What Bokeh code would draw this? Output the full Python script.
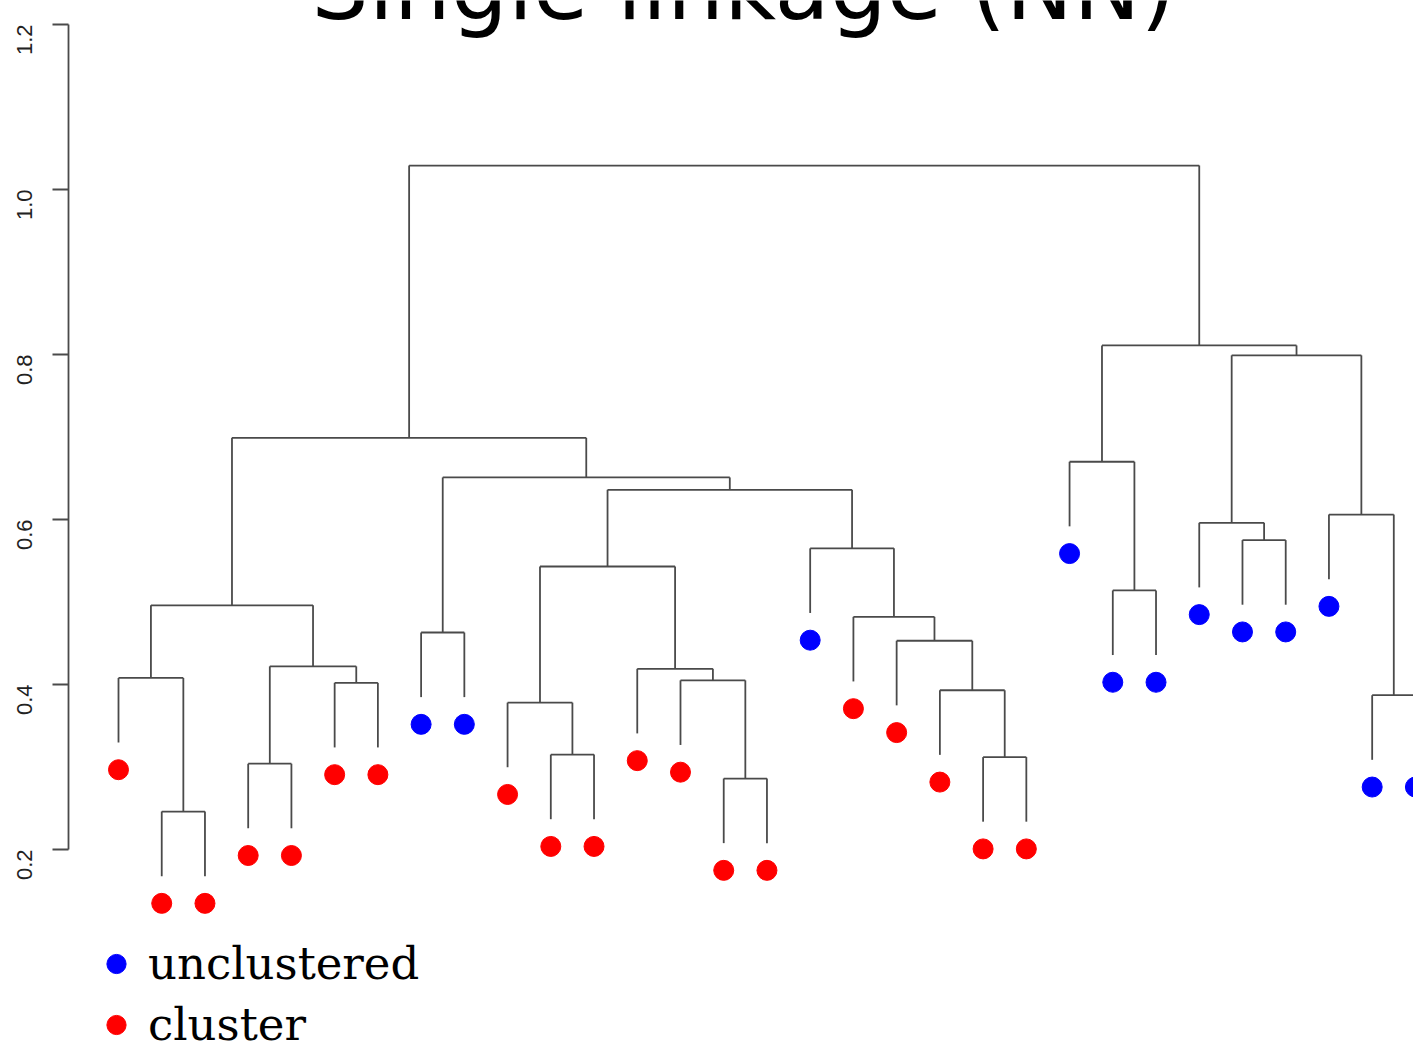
import math
import numpy as np
from bokeh.plotting import figure
from bokeh.models import (Range1d, LinearAxis, FixedTicker, PrintfTickFormatter,
                          Label, Legend, LegendItem, ColumnDataSource)
from bokeh.embed import file_html
from bokeh.resources import INLINE

# ---- data -------------------------------------------------------------
# Leaves in plotting order (1..31) and whether each point belongs to a cluster
leaf_labels = [str(i) for i in range(1, 32)]
leaf_group = (["cluster"] * 7 + ["unclustered"] * 2 + ["cluster"] * 7 +
              ["unclustered"] + ["cluster"] * 5 + ["unclustered"] * 9)

# Agglomeration steps (hclust style: negative = leaf, positive = earlier step)
merge_left = [-2, -15, -4, -21, -11, -10, -30, -20, -6, -14,
              -1, -13, 3, -19, -8, -18, 11, -24, 6, -17,
              -27, -26, -29, 19, 15, -23, 17, 22, 26, 27]
merge_right = [-3, -16, -5, -22, -12, 5, -31, 4, -7, 2,
               1, 10, 9, 8, -9, 14, 13, -25, 12, 16,
               -28, 21, 7, 20, 24, 18, 25, 23, 28, 29]
merge_height = [0.246, 0.286, 0.304, 0.312, 0.315, 0.378, 0.387, 0.393, 0.402, 0.405,
                0.408, 0.419, 0.422, 0.453, 0.463, 0.482, 0.496, 0.514, 0.543, 0.565,
                0.575, 0.596, 0.606, 0.636, 0.651, 0.670, 0.699, 0.799, 0.811, 1.029]

axis_ticks = [0.2, 0.4, 0.6, 0.8, 1.0, 1.2]
title_text = "Single linkage (NN)"
group_colors = {"unclustered": "#0000ff", "cluster": "#ff0000"}

# ---- dendrogram geometry ----------------------------------------------
n_leaves = len(leaf_group)
leaf_x = np.arange(n_leaves, dtype=float)
leaf_end = np.zeros(n_leaves)
hang = 0.1 * (max(merge_height) - min(merge_height))

node_x = {}
x0, y0, x1, y1 = [], [], [], []
for step, (a, b, h) in enumerate(zip(merge_left, merge_right, merge_height), start=1):
    xs = []
    for ref in (a, b):
        if ref < 0:
            i = -ref - 1
            cx, bottom = leaf_x[i], h - hang
            leaf_end[i] = bottom
        else:
            cx, bottom = node_x[ref], merge_height[ref - 1]
        xs.append(cx)
        x0.append(cx); y0.append(h); x1.append(cx); y1.append(bottom)
    x0.append(xs[0]); y0.append(h); x1.append(xs[1]); y1.append(h)
    node_x[step] = 0.5 * (xs[0] + xs[1])

line_color = "#4a4a4a"

p = figure(width=1413, height=1053, output_backend="svg", toolbar_location=None,
           title=None, x_axis_type=None, y_axis_type=None,
           x_range=Range1d(-1.1566, 29.956), y_range=Range1d(-0.0473, 1.2291),
           min_border_left=68, min_border_right=0, min_border_top=0, min_border_bottom=0)
p.outline_line_color = None
p.xgrid.visible = False
p.ygrid.visible = False
p.background_fill_color = "white"
p.border_fill_color = "white"

p.segment(x0=x0, y0=y0, x1=x1, y1=y1, line_color=line_color, line_width=1.8)

# leaf markers below each hanging branch
renderers = {}
for grp in ("unclustered", "cluster"):
    idx = [i for i, g in enumerate(leaf_group) if g == grp]
    src = ColumnDataSource(dict(x=leaf_x[idx], y=leaf_end[idx] - 0.033,
                                label=[leaf_labels[i] for i in idx]))
    renderers[grp] = p.scatter("x", "y", source=src, size=20, marker="circle",
                               fill_color=group_colors[grp], line_color=group_colors[grp])

yaxis = LinearAxis(ticker=FixedTicker(ticks=axis_ticks),
                   formatter=PrintfTickFormatter(format="%.1f"),
                   bounds=(0.2, 1.2))
yaxis.axis_line_color = line_color
yaxis.axis_line_width = 1.8
yaxis.major_tick_line_color = line_color
yaxis.major_tick_line_width = 1.8
yaxis.major_tick_out = 16
yaxis.major_tick_in = 0
yaxis.minor_tick_out = 0
yaxis.minor_tick_in = 0
yaxis.major_label_orientation = math.pi / 2
yaxis.major_label_text_font = "Liberation Sans"
yaxis.major_label_text_font_size = "22px"
yaxis.major_label_text_color = "#222222"
yaxis.major_label_standoff = 28
p.add_layout(yaxis, "left")

p.add_layout(Label(x=14.46, y=1.2444, text=title_text, text_align="center",
                   text_baseline="alphabetic", text_font="DejaVu Sans",
                   text_font_size="90px", text_color="black"))

legend = Legend(items=[LegendItem(label="unclustered", renderers=[renderers["unclustered"]]),
                       LegendItem(label="cluster", renderers=[renderers["cluster"]])],
                location=(24, -2), orientation="vertical",
                glyph_width=48, glyph_height=61, label_height=61, spacing=0,
                label_standoff=8, padding=0, margin=0,
                label_text_font="DejaVu Serif", label_text_font_size="45px",
                label_text_color="black", label_text_baseline="middle",
                border_line_color=None, background_fill_alpha=0)
p.add_layout(legend)

open("out.html", "w").write(file_html(p, INLINE))
